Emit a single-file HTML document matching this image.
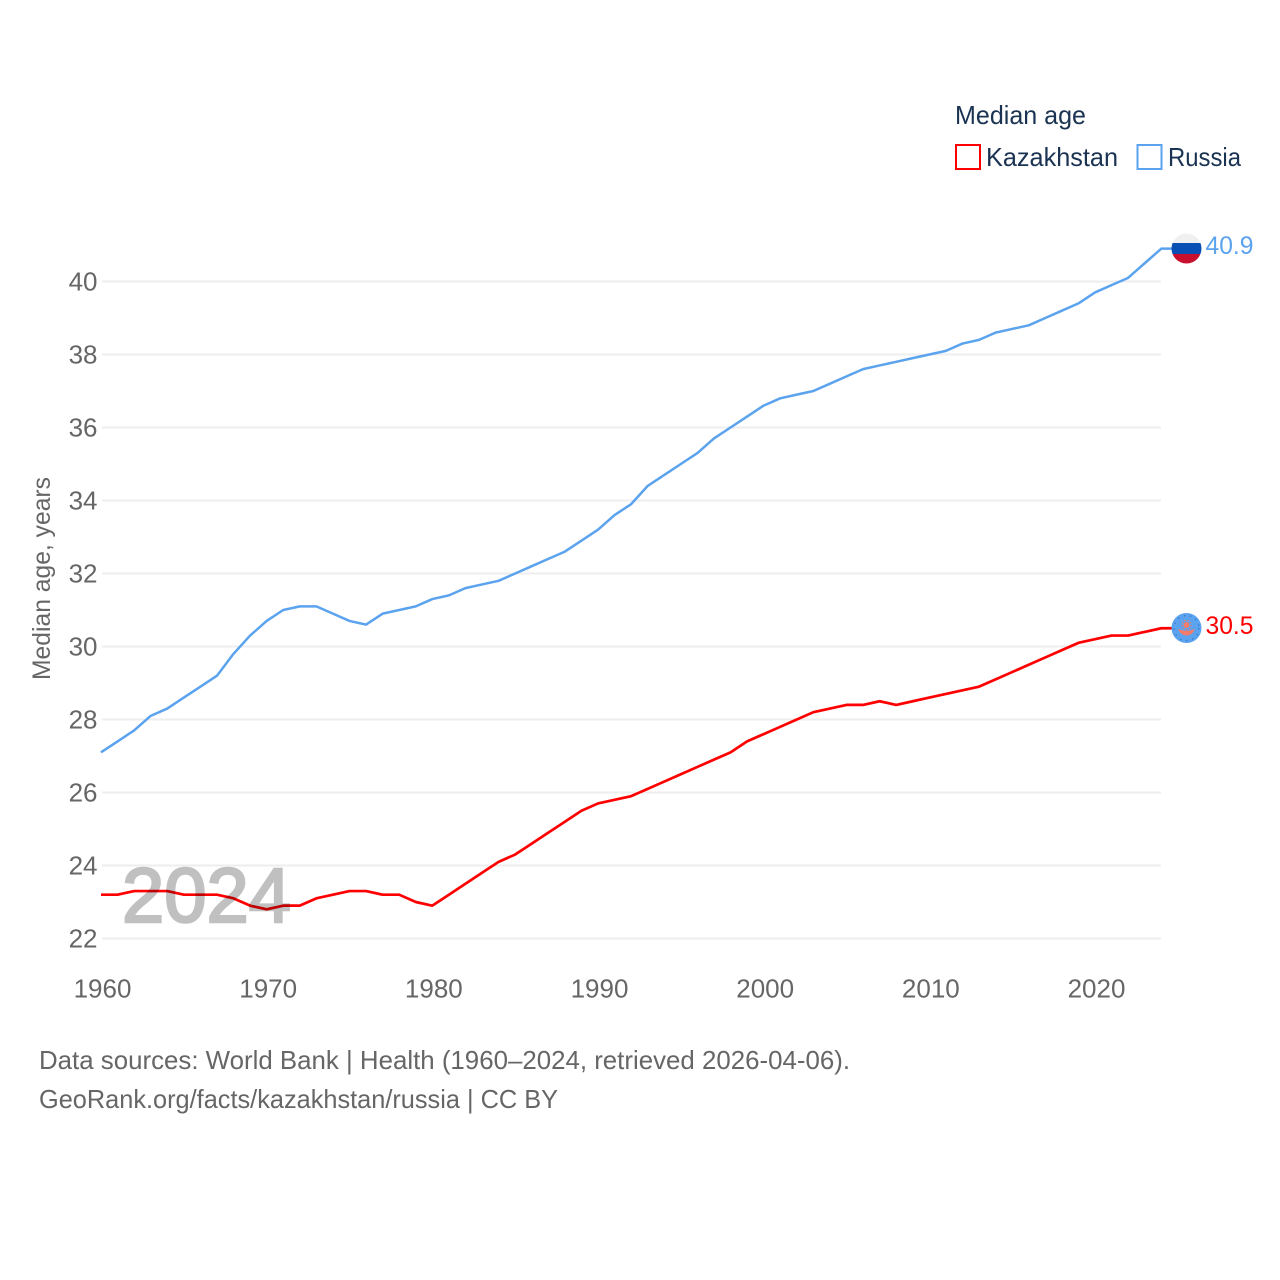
<!DOCTYPE html>
<html lang="en">
<head>
<meta charset="utf-8">
<title>Median age: Kazakhstan and Russia</title>
<style>
html,body{margin:0;padding:0;background:#fff;}
svg{display:block;font-family:"Liberation Sans",sans-serif;}
</style>
</head>
<body>
<svg id="chart" xmlns="http://www.w3.org/2000/svg" width="1280" height="1280" viewBox="0 0 1280 1280">
  <defs>
    <clipPath id="clip-ru"><circle cx="1186.5" cy="248.5" r="15"/></clipPath>
  </defs>
  <rect x="0" y="0" width="1280" height="1280" fill="#fff"/>
  <g id="grid"></g>
  <g id="yticks"></g>
  <g id="xticks"></g>
  <text transform="translate(50,680) rotate(-90)" font-size="25" fill="#666" textLength="203" lengthAdjust="spacingAndGlyphs">Median age, years</text>
  <g id="series"></g>
  <text x="122" y="922" font-size="77" fill="#c0c0c0" stroke="#c0c0c0" stroke-width="2.5" style="mix-blend-mode:multiply" textLength="169" lengthAdjust="spacingAndGlyphs">2024</text>

  <g>
    <text x="955" y="124" font-size="26" fill="#1a3352" textLength="131" lengthAdjust="spacingAndGlyphs">Median age</text>
    <rect x="956" y="145" width="24" height="24" fill="none" stroke="#ff0000" stroke-width="2"/>
    <text x="986" y="166" font-size="26" fill="#1a3352" textLength="132" lengthAdjust="spacingAndGlyphs">Kazakhstan</text>
    <rect x="1137.5" y="145" width="24" height="24" fill="none" stroke="#5ba3ee" stroke-width="2"/>
    <text x="1168" y="166" font-size="26" fill="#1a3352" textLength="73" lengthAdjust="spacingAndGlyphs">Russia</text>
  </g>

  <g clip-path="url(#clip-ru)">
    <rect x="1171" y="233" width="31" height="10" fill="#f0f0f0"/>
    <rect x="1171" y="243" width="31" height="11" fill="#0a50b4"/>
    <rect x="1171" y="254" width="31" height="11" fill="#c8102e"/>
  </g>
  <g id="kz-flag">
    <circle cx="1186.5" cy="628" r="15" fill="#5ba3ee"/>
    <circle cx="1186.5" cy="625" r="3" fill="#f47c6a"/>
    <circle cx="1186.5" cy="625" r="4.6" fill="none" stroke="#f47c6a" stroke-width="1.2" stroke-dasharray="1.4 1.8"/>
    <path d="M1178 629 Q1186.5 632.5 1195 629 Q1192 635.5 1186.5 635.5 Q1181 635.5 1178 629 Z" fill="#f47c6a"/>
    <circle cx="1186.5" cy="628" r="12.5" fill="none" stroke="#2a6fc0" stroke-width="1.2" stroke-dasharray="1.2 5"/>
  </g>

  <text x="1205.5" y="254" font-size="25" fill="#5ba3ee" textLength="48" lengthAdjust="spacingAndGlyphs">40.9</text>
  <text x="1205.5" y="634" font-size="25" fill="#ff0000" textLength="48" lengthAdjust="spacingAndGlyphs">30.5</text>

  <text x="39" y="1069" font-size="26" fill="#666" textLength="811" lengthAdjust="spacingAndGlyphs">Data sources: World Bank | Health (1960–2024, retrieved 2026-04-06).</text>
  <text x="39" y="1108" font-size="26" fill="#666" textLength="519" lengthAdjust="spacingAndGlyphs">GeoRank.org/facts/kazakhstan/russia | CC BY</text>
</svg>
<script>
var startYear = 1960;
var yTickValues = [22, 24, 26, 28, 30, 32, 34, 36, 38, 40];
var xTickValues = [1960, 1970, 1980, 1990, 2000, 2010, 2020];
var russiaValues = [27.1,27.4,27.7,28.1,28.3,28.6,28.9,29.2,29.8,30.3,30.7,31.0,31.1,31.1,30.9,30.7,30.6,30.9,31.0,31.1,31.3,31.4,31.6,31.7,31.8,32.0,32.2,32.4,32.6,32.9,33.2,33.6,33.9,34.4,34.7,35.0,35.3,35.7,36.0,36.3,36.6,36.8,36.9,37.0,37.2,37.4,37.6,37.7,37.8,37.9,38.0,38.1,38.3,38.4,38.6,38.7,38.8,39.0,39.2,39.4,39.7,39.9,40.1,40.5,40.9];
var kazakhstanValues = [23.2,23.2,23.3,23.3,23.3,23.2,23.2,23.2,23.1,22.9,22.8,22.9,22.9,23.1,23.2,23.3,23.3,23.2,23.2,23.0,22.9,23.2,23.5,23.8,24.1,24.3,24.6,24.9,25.2,25.5,25.7,25.8,25.9,26.1,26.3,26.5,26.7,26.9,27.1,27.4,27.6,27.8,28.0,28.2,28.3,28.4,28.4,28.5,28.4,28.5,28.6,28.7,28.8,28.9,29.1,29.3,29.5,29.7,29.9,30.1,30.2,30.3,30.3,30.4,30.5];

var NS = 'http://www.w3.org/2000/svg';
function xScale(year) { return 101 + (year - 1960) * (1095 - 101) / 60; }
function yScale(v) { return 938.5 - (v - 22) * (938.5 - 281.5) / 18; }

var gridGroup = document.getElementById('grid');
var yGroup = document.getElementById('yticks');
var xGroup = document.getElementById('xticks');
var seriesGroup = document.getElementById('series');

yTickValues.forEach(function (v) {
  var line = document.createElementNS(NS, 'line');
  
  
  line.setAttribute('x1', 102);
  line.setAttribute('x2', 1161);
  line.setAttribute('y1', yScale(v));
  line.setAttribute('y2', yScale(v));
  line.setAttribute('stroke', '#eeeeee');
  line.setAttribute('stroke-width', 2);
  gridGroup.appendChild(line);

  var label = document.createElementNS(NS, 'text');
  
  
  label.setAttribute('x', 97.5);
  label.setAttribute('y', yScale(v) + 9);
  label.setAttribute('text-anchor', 'end');
  label.setAttribute('font-size', 26);
  label.setAttribute('fill', '#666');
  label.textContent = String(v);
  yGroup.appendChild(label);
});

xTickValues.forEach(function (year) {
  var label = document.createElementNS(NS, 'text');
  
  
  label.setAttribute('x', xScale(year) + 1.5);
  label.setAttribute('y', 997.5);
  label.setAttribute('text-anchor', 'middle');
  label.setAttribute('font-size', 26);
  label.setAttribute('fill', '#666');
  label.textContent = String(year);
  xGroup.appendChild(label);
});

function linePoints(values) {
  var pts = values.map(function (v, i) {
    return xScale(startYear + i).toFixed(2) + ',' + yScale(v).toFixed(2);
  });
  pts.push('1172,' + yScale(values[values.length - 1]).toFixed(2));
  return pts.join(' ');
}

var russiaLine = document.createElementNS(NS, 'polyline');


russiaLine.setAttribute('points', linePoints(russiaValues));
russiaLine.setAttribute('fill', 'none');
russiaLine.setAttribute('stroke', '#5ba3ee');
russiaLine.setAttribute('stroke-width', 2.5);
russiaLine.setAttribute('stroke-linejoin', 'round');
seriesGroup.appendChild(russiaLine);

var kazakhstanLine = document.createElementNS(NS, 'polyline');


kazakhstanLine.setAttribute('points', linePoints(kazakhstanValues));
kazakhstanLine.setAttribute('fill', 'none');
kazakhstanLine.setAttribute('stroke', '#ff0000');
kazakhstanLine.setAttribute('stroke-width', 2.7);
kazakhstanLine.setAttribute('stroke-linejoin', 'round');
seriesGroup.appendChild(kazakhstanLine);
</script>
</body>
</html>
